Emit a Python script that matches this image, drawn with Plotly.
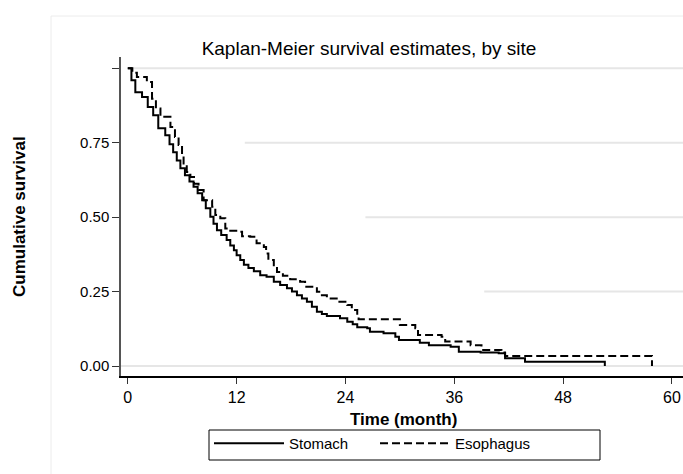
import plotly.graph_objects as go

# ---- data ----
stomach_months = [0, 0.4, 0.83, 1.57, 2.2, 2.8, 3.36, 4.13, 4.6, 5.0, 5.4, 5.8, 6.3, 6.8, 7.25, 7.7,
                  8.2, 8.6, 9.1, 9.45, 9.83, 10.3, 10.9, 11.3, 11.7, 12.0, 12.4, 12.8, 13.3, 13.9,
                  14.6, 15.3, 16.1, 16.8, 17.55, 18.1, 18.65, 19.2, 19.75, 20.3, 20.85, 21.4, 21.95,
                  23.4, 24.2, 24.8, 25.3, 26.4, 26.7, 28.2, 29.5, 29.9, 32.2, 33.2, 35.6, 36.5, 38.9,
                  40.9, 41.6, 43.8, 52.6]
stomach_surv = [1.0, 0.96, 0.92, 0.904, 0.87, 0.842, 0.799, 0.775, 0.745, 0.718, 0.69, 0.664, 0.641,
                0.62, 0.602, 0.58, 0.557, 0.53, 0.501, 0.478, 0.456, 0.44, 0.423, 0.405, 0.389, 0.372,
                0.356, 0.34, 0.329, 0.318, 0.305, 0.300, 0.283, 0.272, 0.261, 0.25, 0.238, 0.227,
                0.216, 0.199, 0.182, 0.175, 0.168, 0.160, 0.149, 0.14, 0.130, 0.127, 0.115, 0.110,
                0.098, 0.087, 0.078, 0.070, 0.065, 0.048, 0.045, 0.043, 0.026, 0.014, 0.0]

esophagus_months = [0, 0.5, 1.0, 2.1, 2.67, 3.1, 3.6, 4.7, 5.2, 5.6, 5.98, 6.15, 6.5, 6.9, 7.3, 7.8,
                    8.36, 9.3, 9.65, 10.2, 10.75, 11.3, 12.2, 12.6, 13.5, 14.2, 15.0, 15.25, 15.5,
                    16.1, 16.45, 17.1, 17.9, 19.0, 19.55, 20.85, 21.4, 21.95, 23.2, 24.2, 24.7, 25.3,
                    25.45, 30.0, 31.7, 32.0, 34.6, 35.0, 37.8, 39.0, 41.2, 41.6, 57.8]
esophagus_surv = [1.0, 0.985, 0.971, 0.954, 0.898, 0.865, 0.837, 0.803, 0.769, 0.742, 0.708, 0.680,
                  0.652, 0.635, 0.612, 0.591, 0.557, 0.535, 0.507, 0.496, 0.462, 0.454, 0.451, 0.436,
                  0.434, 0.412, 0.400, 0.378, 0.356, 0.333, 0.316, 0.303, 0.291, 0.283, 0.266, 0.249,
                  0.238, 0.227, 0.216, 0.205, 0.188, 0.171, 0.157, 0.138, 0.127, 0.104, 0.098, 0.082,
                  0.070, 0.054, 0.045, 0.034, 0.0]

x_ticks = [0, 12, 24, 36, 48, 60]
y_ticks = [0, 0.25, 0.5, 0.75, 1.0]
y_tick_labels = ["0.00", "0.25", "0.50", "0.75", ""]
series_names = ["Stomach", "Esophagus"]
title_text = "Kaplan-Meier survival estimates, by site"
x_title = "Time (month)"
y_title = "Cumulative survival"

# grid lines (value, starting month) as they appear in the reference
grid_levels = [0.0, 0.25, 0.5, 0.75, 1.0]
grid_starts = [-0.75, 39.3, 26.2, 12.9, 0.3]

FONT = "Liberation Sans, Arial, sans-serif"
X_RANGE = [-0.75, 61.22]
Y_RANGE = [-0.0336, 1.038]

# page-pixel layout of the reference
W, H = 683, 474
PLOT_L, PLOT_R, PLOT_T, PLOT_B = 121, 683, 57, 376
PW, PH = PLOT_R - PLOT_L, PLOT_B - PLOT_T


def px(x):
    return (x - PLOT_L) / PW


def py(y):
    return (PLOT_B - y) / PH


fig = go.Figure()
fig.add_trace(go.Scatter(x=stomach_months, y=stomach_surv, mode="lines", name=series_names[0],
                         line=dict(color="black", width=2, shape="hv")))
fig.add_trace(go.Scatter(x=esophagus_months, y=esophagus_surv, mode="lines", name=series_names[1],
                         line=dict(color="black", width=2, shape="hv", dash="8px,4px")))

shapes = []
for lvl, start in zip(grid_levels, grid_starts):
    shapes.append(dict(type="line", xref="x", yref="y", x0=start, x1=X_RANGE[1], y0=lvl, y1=lvl,
                       line=dict(color="#e6e6e6", width=2), layer="below"))
# faint outer graph-region frame
shapes.append(dict(type="line", xref="paper", yref="paper", x0=px(51), x1=px(51), y0=py(16), y1=py(480),
                   line=dict(color="#ececec", width=1)))
shapes.append(dict(type="line", xref="paper", yref="paper", x0=px(51), x1=px(690), y0=py(16), y1=py(16),
                   line=dict(color="#ececec", width=1)))
# legend frame
shapes.append(dict(type="rect", xref="paper", yref="paper", x0=px(209), x1=px(600), y0=py(430), y1=py(460),
                   line=dict(color="black", width=1), fillcolor="white", layer="below"))

fig.update_layout(
    width=W, height=H,
    margin=dict(l=PLOT_L, r=W - PLOT_R, t=PLOT_T, b=H - PLOT_B, autoexpand=False),
    paper_bgcolor="white", plot_bgcolor="white",
    font=dict(family=FONT, color="black"),
    title=dict(text=title_text, x=369 / W, xanchor="center", y=1 - 48 / H, yanchor="middle",
               font=dict(size=19, family=FONT, color="black")),
    shapes=shapes,
    showlegend=True,
    legend=dict(orientation="h", xref="container", yref="container",
                x=209 / W, y=1 - 427 / H, xanchor="left", yanchor="top",
                borderwidth=0, bgcolor="rgba(0,0,0,0)", itemwidth=70,
                entrywidth=81, font=dict(size=15, family=FONT, color="black"),
                itemclick=False, itemdoubleclick=False),
    annotations=[
        dict(text="<b>" + x_title + "</b>", xref="paper", yref="paper", x=px(403),
             y=py(419), xanchor="center", yanchor="middle", showarrow=False,
             font=dict(size=17, family=FONT, color="black")),
        dict(text="<b>" + y_title + "</b>", xref="paper", yref="paper", x=px(20),
             y=py(217), xanchor="center", yanchor="middle", showarrow=False, textangle=-90,
             font=dict(size=17, family=FONT, color="black")),
    ],
)
fig.update_xaxes(range=X_RANGE, tickvals=x_ticks, ticktext=[str(v) for v in x_ticks],
                 showgrid=False, zeroline=False, showline=True, linecolor="black", linewidth=1.5,
                 ticks="outside", ticklen=6, tickcolor="#333", tickwidth=1, automargin=False,
                 tickfont=dict(size=16, family=FONT, color="black"))
fig.update_yaxes(range=Y_RANGE, tickvals=y_ticks, ticktext=y_tick_labels,
                 showgrid=False, zeroline=False, showline=True, linecolor="#555", linewidth=1.5,
                 ticks="outside", ticklen=7, tickcolor="#333", tickwidth=1, automargin=False,
                 tickfont=dict(size=15, family=FONT, color="black"))

# remove the browser's default 8px page margin so the figure fills the window exactly
fig.write_html("out.html", config={"displayModeBar": False},
               post_script="document.body.style.margin='0';document.body.style.overflow='hidden';")
